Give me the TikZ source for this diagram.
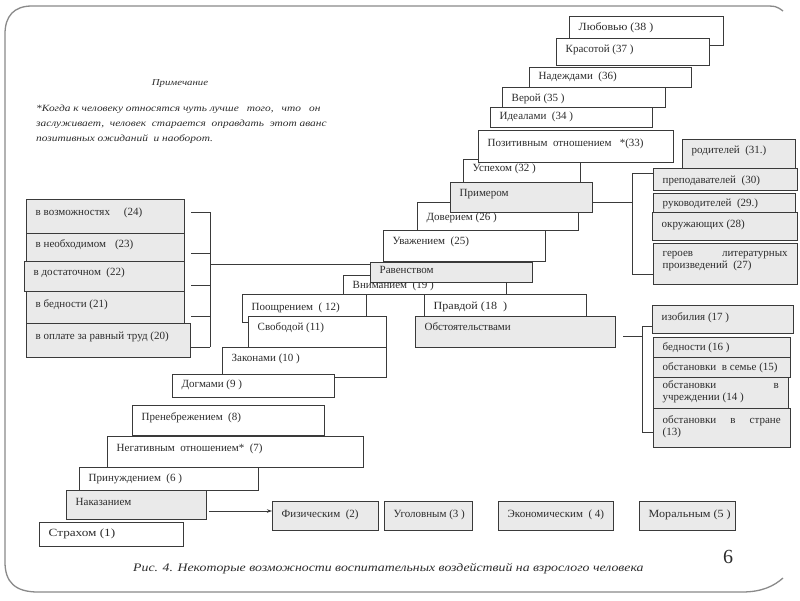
\documentclass[tikz,border=0pt]{standalone}
\usepackage{fontspec}
\setmainfont{Liberation Serif}
\newfontfamily\notefont[FakeStretch=1.2]{Liberation Serif}
\usetikzlibrary{arrows.meta}
\definecolor{boxgray}{HTML}{EAEAEA}
\definecolor{linec}{HTML}{3A3A3A}
\definecolor{txtc}{HTML}{2C2C2C}
\definecolor{framec}{HTML}{8A8A8A}
\newcommand\mybox[8][white]{%
  \pgfmathsetmacro\bxw{#5-#3}%
  \pgfmathsetmacro\bxh{#6-#4}%
  \node[box,fill=#1,minimum width=\bxw pt,minimum height=\bxh pt,anchor=north west] (#2) at (#3,#4) {};
  \node[txt,anchor=base west] (#2-t) at (#3+9.5,#4+#7) {#8};}
\newcommand\wide[2]{\scalebox{#1}[1]{#2}}
\begin{document}
\begin{tikzpicture}[x=1pt,y=-1pt,
  box/.style={draw=linec,line width=0.8pt,inner sep=0pt},
  txt/.style={font=\fontsize{11}{12.5}\selectfont,text=txtc,inner sep=0pt},
  conn/.style={draw=linec,line width=0.9pt},
  frame/.style={draw=framec,line width=1.3pt}]
\useasboundingbox (0,0) rectangle (800,600);
\fill[white] (0,0) rectangle (800,600);
% frame
\draw[frame] (783,11) .. controls (776,6) .. (762,6) -- (32,6) .. controls (14,6) and (5,16) .. (5,34) -- (5,562) .. controls (5,582) and (15,592) .. (38,592) -- (742,592) .. controls (762,592) and (774,586) .. (783,578);
% note
\node[font=\notefont\itshape\fontsize{9}{11}\selectfont,text=txtc] (notehead) at (180,84) {Примечание};
\node[font=\notefont\itshape\fontsize{9.5}{15}\selectfont,text=txtc,anchor=north west,align=left,inner sep=0pt] (notebody) at (36,105)
 {*Когда к человеку относятся чуть лучше\hspace{8pt}того,\hspace{8pt}что\hspace{8pt}он\\
  заслуживает,\ \ человек\ \ старается\ \ оправдать\ \ этот аванс\\
  позитивных ожиданий\ \ и наоборот.};
% stair
\mybox{s38}{569}{16}{723}{45}{14}{\wide{1.08}{Любовью (38 )}}
\mybox{s37}{556}{38}{709}{65}{14}{Красотой (37 )}
\mybox{s36}{529}{67}{691}{87}{12}{Надеждами~ (36)}
\mybox{s35}{502}{87}{665}{107}{14}{Верой (35 )}
\mybox{s34}{490}{107}{652}{127}{12}{Идеалами~ (34 )}
\mybox{s32}{463}{159}{580}{182}{12}{Успехом (32 )}
\mybox{s33}{478}{130}{673}{162}{16}{Позитивным~ отношением~~ *(33)}
\mybox{s26}{417}{202}{578}{230}{18}{Доверием (26 )}
\mybox[boxgray]{prim}{450}{182}{592}{212}{14}{Примером}
\mybox{s25}{383}{230}{545}{261}{14}{Уважением~ (25)}
\mybox{s19}{343}{275}{506}{294}{13}{Вниманием~ (19 )}
\mybox[boxgray]{rav}{370}{262}{532}{282}{11}{Равенством}
\mybox{s12}{242}{294}{366}{322}{16}{Поощрением~ ( 12)}
\mybox{s18}{424}{294}{586}{316}{15}{\wide{1.1}{Правдой (18~ )}}
\mybox{s11}{248}{316}{386}{347}{14}{Свободой (11)}
\mybox[boxgray]{obst}{415}{316}{615}{347}{14}{Обстоятельствами}
\mybox{s10}{222}{347}{386}{377}{14}{Законами (10 )}
\mybox{s9}{172}{374}{334}{397}{13}{Догмами (9 )}
\mybox{s8}{132}{405}{324}{435}{15}{Пренебрежением~ (8)}
\mybox{s7}{107}{436}{363}{467}{15}{Негативным~ отношением*~ (7)}
\mybox{s6}{79}{467}{258}{490}{14}{Принуждением~ (6 )}
\mybox[boxgray]{nak}{66}{490}{206}{519}{15}{Наказанием}
\mybox{s1}{39}{522}{183}{546}{14}{\wide{1.2}{Страхом (1)}}
% left group
\mybox[boxgray]{b24}{26}{199}{184}{233}{16}{в возможностях\hspace{14pt}(24)}
\mybox[boxgray]{b23}{26}{233}{184}{261}{14}{в необходимом\hspace{9pt}(23)}
\mybox[boxgray]{b22}{24}{261}{184}{291}{14}{в достаточном~ (22)}
\mybox[boxgray]{b21}{26}{291}{184}{323}{16}{в бедности (21)}
\mybox[boxgray]{b20}{26}{323}{190}{357}{16}{в оплате за равный труд (20)}
\coordinate (lt) at (210,212);
\coordinate (lb) at (210,347);
\coordinate (lm) at (210,264);
\draw[conn] (lt) -- (lb);
\foreach \yy in {212,253,285,316,347} \draw[conn] (191,\yy) -- (210,\yy);
\draw[conn] (lm) -- (lm -| rav.west);
% right group (Примером)
\mybox[boxgray]{r31}{682}{139}{795}{168}{14}{родителей~ (31.)}
\mybox[boxgray]{r30}{653}{168}{797}{190}{15}{преподавателей~ (30)}
\mybox[boxgray]{r29}{653}{193}{795}{212}{13}{руководителей~ (29.)}
\mybox[boxgray]{r28}{652}{212}{797}{240}{15}{окружающих (28)}
\mybox[boxgray]{r27}{653}{243}{797}{284}{13}{\parbox[t]{125pt}{героев\hfill литературных\\произведений~~(27)}}
\coordinate (pb) at (632,202);
\coordinate (pbt) at (632,173);
\coordinate (pbb) at (632,274);
\draw[conn] (prim.east |- pb) -- (pb);
\draw[conn] (pbt) -- (pbb);
\draw[conn] (pbt) -- (pbt -| r30.west);
\draw[conn] (pbb) -- (pbb -| r27.west);
% right group (Обстоятельствами)
\mybox[boxgray]{o17}{652}{305}{793}{333}{15}{изобилия (17 )}
\mybox[boxgray]{o16}{653}{337}{790}{357}{13}{бедности (16 )}
\mybox[boxgray]{o15}{653}{357}{790}{377}{13}{обстановки~ в семье (15)}
\mybox[boxgray]{o14}{653}{377}{788}{408}{11}{\parbox[t]{116pt}{обстановки\hfill в\\учреждении (14 )}}
\mybox[boxgray]{o13}{653}{408}{790}{447}{15}{\parbox[t]{118pt}{обстановки\hfill в\hfill стране\\(13)}}
\coordinate (ob) at (623,336);
\coordinate (obv) at (642,336);
\coordinate (obt) at (642,326);
\coordinate (obb) at (642,432);
\draw[conn] (ob) -- (obv);
\draw[conn] (obt) -- (obb);
\draw[conn] (obt) -- (obt -| o17.west);
\draw[conn] (obb) -- (obb -| o13.west);
% bottom row
\mybox[boxgray]{fiz}{272}{501}{378}{530}{16}{Физическим~ (2)}
\mybox[boxgray]{ugo}{384}{501}{472}{530}{16}{Уголовным (3 )}
\mybox[boxgray]{eko}{498}{501}{613}{530}{16}{Экономическим~ ( 4)}
\mybox[boxgray]{mor}{639}{501}{735}{530}{16}{\wide{1.1}{Моральным (5 )}}
\coordinate (ar) at (209,511);
\draw[conn,-{Stealth[length=5pt,width=3.5pt]}] (ar) -- (ar -| fiz.west);
% caption
\node[font=\notefont\itshape\fontsize{11.5}{13}\selectfont,text=txtc,anchor=base west,inner sep=0pt] (cap) at (133,571) {Рис. 4. Некоторые возможности воспитательных воздействий на взрослого человека};
\node[font=\fontsize{20}{22}\selectfont,text=txtc,anchor=base] (pnum) at (728,563) {6};
\end{tikzpicture}
\end{document}
